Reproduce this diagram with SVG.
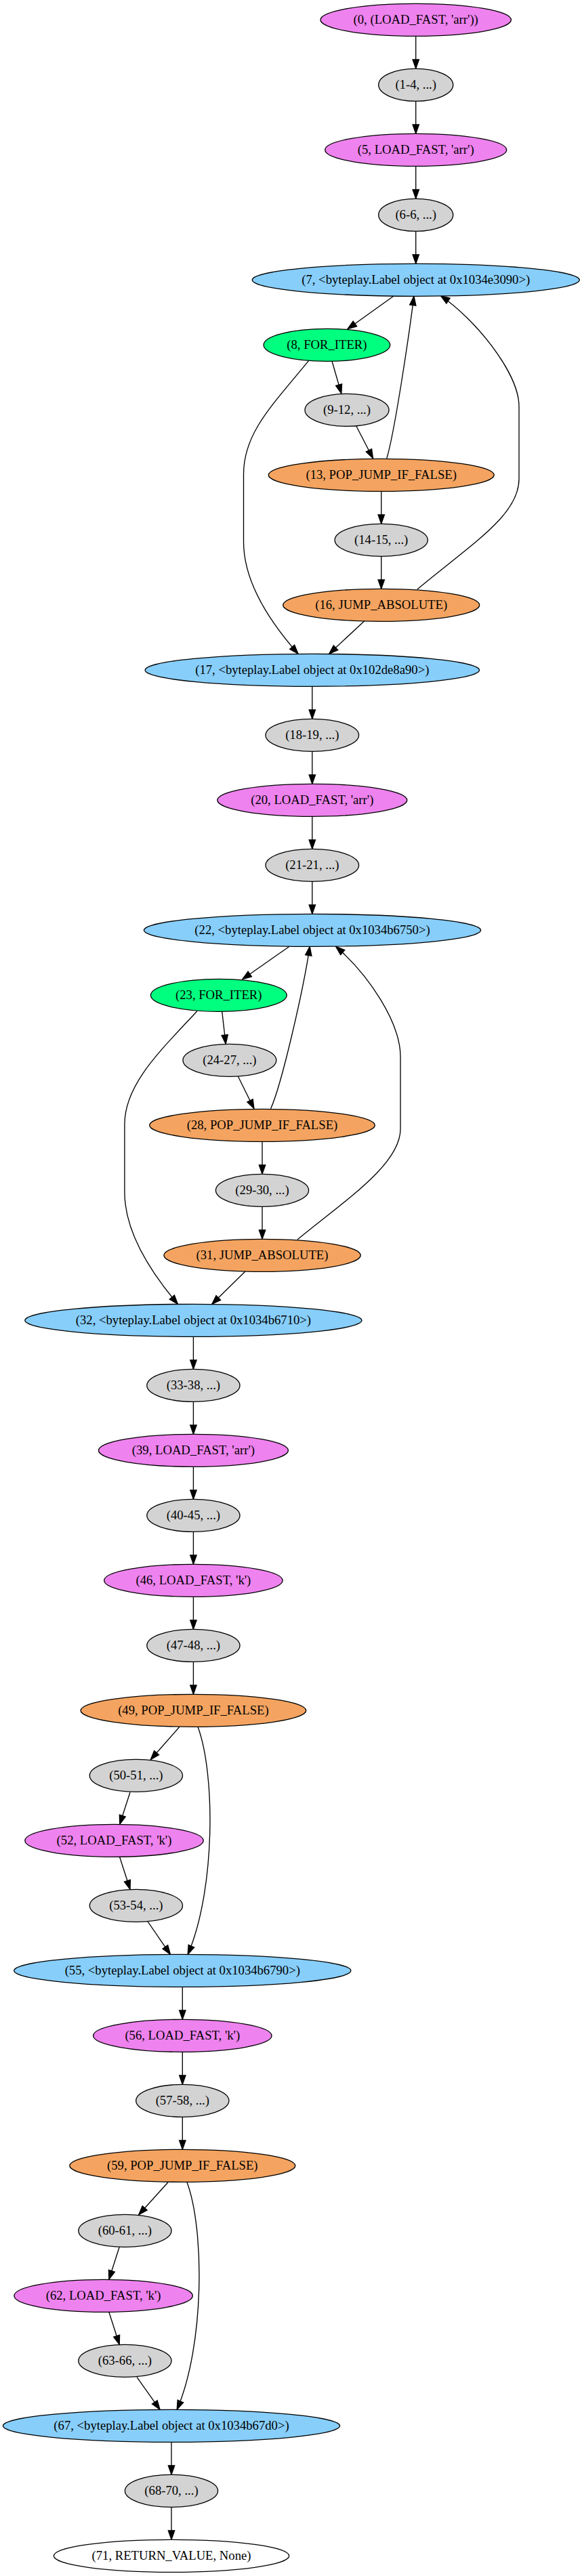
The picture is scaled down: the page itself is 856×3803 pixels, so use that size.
<svg xmlns="http://www.w3.org/2000/svg" width="856" height="3803" viewBox="0 0 856 3803">
<style>
.n ellipse{stroke:#000;stroke-width:1.33}
.n text{font-family:"Liberation Serif","Times New Roman",serif;font-size:18.67px;text-anchor:middle;fill:#000}
.v ellipse{fill:#ee82ee}
.g ellipse{fill:#d3d3d3}
.b ellipse{fill:#87cefa}
.s ellipse{fill:#00ff7f}
.o ellipse{fill:#f4a460}
.w ellipse{fill:#ffffff}
#edges path{fill:none;stroke:#000;stroke-width:1.33;marker-end:url(#ah)}
</style>
<defs>
<marker id="ah" markerUnits="userSpaceOnUse" markerWidth="16" markerHeight="12" refX="13.33" refY="4.67" orient="auto" overflow="visible">
<path d="M0,0 L13.33,4.67 L0,9.33 z" fill="#000" stroke="#000" stroke-width="1.33"/>
</marker>
</defs>
<rect width="856" height="3803" fill="#fff"/>
<g id="edges">
<path d="M613.7,53.3 L613.7,101.3"/>
<path d="M613.7,149.3 L613.7,197.3"/>
<path d="M613.7,245.3 L613.7,293.3"/>
<path d="M613.7,341.3 L613.7,389.3"/>
<path d="M580.7,437.3 L513,485.7"/>
<path d="M490,533.3 L503.8,581"/>
<path d="M455.5,532.7 C400,600 359.5,640 359.5,700 L359.5,800 C359.5,860 400,920 440,965.3"/>
<path d="M525.8,629 L550.5,676.7"/>
<path d="M570.8,676.7 C582,640 603,500 610.9,437.3"/>
<path d="M562.7,725.3 L562.7,773.3"/>
<path d="M562.7,821.3 L562.7,869.3"/>
<path d="M615.8,870 C700,800 766,760 766,706.7 L766,600 C766,550 700,470 650.4,436.7"/>
<path d="M537.8,916.7 L485.7,965.3"/>
<path d="M460.8,1013.3 L460.8,1061.3"/>
<path d="M460.8,1109.3 L460.8,1157.3"/>
<path d="M460.8,1205.3 L460.8,1253.3"/>
<path d="M460.8,1301.3 L460.8,1349.3"/>
<path d="M427,1397.3 L357.8,1445.7"/>
<path d="M327.7,1493.3 L333.2,1541.3"/>
<path d="M290.9,1492.7 C238,1550 183.9,1600 183.9,1660 L183.9,1760 C183.9,1820 224,1880 262.4,1925.3"/>
<path d="M351.3,1589 L374.9,1636.7"/>
<path d="M399.6,1636.7 C416,1600 448,1460 457.2,1397.3"/>
<path d="M387,1685.3 L387,1733.3"/>
<path d="M387,1781.3 L387,1829.3"/>
<path d="M439,1830 C505,1775 591,1720 591,1666.7 L591,1560 C591,1510 545,1440 495.6,1397.3"/>
<path d="M362.2,1876.7 L312.8,1925.3"/>
<path d="M285.4,1973.3 L285.4,2021.3"/>
<path d="M285.4,2069.3 L285.4,2117.3"/>
<path d="M285.4,2165.3 L285.4,2213.3"/>
<path d="M285.4,2261.3 L285.4,2309.3"/>
<path d="M285.4,2357.3 L285.4,2405.3"/>
<path d="M285.4,2453.3 L285.4,2501.3"/>
<path d="M265,2549.3 L222.3,2597.7"/>
<path d="M292,2549.3 C318,2620 318,2790 277.2,2885.3"/>
<path d="M192,2646 L176.7,2693.3"/>
<path d="M176.7,2741.7 L192,2789.3"/>
<path d="M217.9,2836.7 L251.4,2885.3"/>
<path d="M269.3,2933.3 L269.3,2981.3"/>
<path d="M269.3,3029.3 L269.3,3077.3"/>
<path d="M269.3,3125.3 L269.3,3173.3"/>
<path d="M248,3221.7 L204.7,3269.7"/>
<path d="M276,3221.7 C302,3292 302,3462 261.2,3557.3"/>
<path d="M176.2,3317.3 L160.8,3365.3"/>
<path d="M160.8,3413.3 L176.2,3461.3"/>
<path d="M202,3509.3 L236,3557.3"/>
<path d="M253,3605.3 L253,3653.3"/>
<path d="M253,3701.3 L253,3749.3"/>
</g>
<g id="n0" class="n v"><ellipse cx="613.7" cy="29.33" rx="140.7" ry="24"/><text x="613.7" y="34.9">(0, (LOAD_FAST, 'arr'))</text></g>
<g id="n1" class="n g"><ellipse cx="613.7" cy="125.33" rx="55" ry="24"/><text x="613.7" y="130.9">(1-4, ...)</text></g>
<g id="n5" class="n v"><ellipse cx="613.7" cy="221.33" rx="134" ry="24"/><text x="613.7" y="226.9">(5, LOAD_FAST, 'arr')</text></g>
<g id="n6" class="n g"><ellipse cx="613.7" cy="317.33" rx="55" ry="24"/><text x="613.7" y="322.9">(6-6, ...)</text></g>
<g id="n7" class="n b"><ellipse cx="613.7" cy="413.33" rx="241.5" ry="24"/><text x="613.7" y="418.9">(7, &lt;byteplay.Label object at 0x1034e3090&gt;)</text></g>
<g id="n8" class="n s"><ellipse cx="482.4" cy="509.33" rx="93.3" ry="24"/><text x="482.4" y="514.9">(8, FOR_ITER)</text></g>
<g id="n9" class="n g"><ellipse cx="512" cy="605.33" rx="62" ry="24"/><text x="512" y="610.9">(9-12, ...)</text></g>
<g id="n13" class="n o"><ellipse cx="562.7" cy="701.33" rx="166.5" ry="24"/><text x="562.7" y="706.9">(13, POP_JUMP_IF_FALSE)</text></g>
<g id="n14" class="n g"><ellipse cx="562.7" cy="797.33" rx="68.6" ry="24"/><text x="562.7" y="802.9">(14-15, ...)</text></g>
<g id="n16" class="n o"><ellipse cx="562.7" cy="893.33" rx="145" ry="24"/><text x="562.7" y="898.9">(16, JUMP_ABSOLUTE)</text></g>
<g id="n17" class="n b"><ellipse cx="460.8" cy="989.33" rx="246.7" ry="24"/><text x="460.8" y="994.9">(17, &lt;byteplay.Label object at 0x102de8a90&gt;)</text></g>
<g id="n18" class="n g"><ellipse cx="460.8" cy="1085.33" rx="68.8" ry="24"/><text x="460.8" y="1090.9">(18-19, ...)</text></g>
<g id="n20" class="n v"><ellipse cx="460.8" cy="1181.33" rx="140" ry="24"/><text x="460.8" y="1186.9">(20, LOAD_FAST, 'arr')</text></g>
<g id="n21" class="n g"><ellipse cx="460.8" cy="1277.33" rx="68.8" ry="24"/><text x="460.8" y="1282.9">(21-21, ...)</text></g>
<g id="n22" class="n b"><ellipse cx="461" cy="1373.33" rx="248.6" ry="24"/><text x="461" y="1378.9">(22, &lt;byteplay.Label object at 0x1034b6750&gt;)</text></g>
<g id="n23" class="n s"><ellipse cx="322.8" cy="1469.33" rx="100.4" ry="24"/><text x="322.8" y="1474.9">(23, FOR_ITER)</text></g>
<g id="n24" class="n g"><ellipse cx="338.9" cy="1565.33" rx="68.9" ry="24"/><text x="338.9" y="1570.9">(24-27, ...)</text></g>
<g id="n28" class="n o"><ellipse cx="387" cy="1661.33" rx="166.3" ry="24"/><text x="387" y="1666.9">(28, POP_JUMP_IF_FALSE)</text></g>
<g id="n29" class="n g"><ellipse cx="387" cy="1757.33" rx="68.6" ry="24"/><text x="387" y="1762.9">(29-30, ...)</text></g>
<g id="n31" class="n o"><ellipse cx="387" cy="1853.33" rx="145.2" ry="24"/><text x="387" y="1858.9">(31, JUMP_ABSOLUTE)</text></g>
<g id="n32" class="n b"><ellipse cx="285.4" cy="1949.33" rx="248.6" ry="24"/><text x="285.4" y="1954.9">(32, &lt;byteplay.Label object at 0x1034b6710&gt;)</text></g>
<g id="n33" class="n g"><ellipse cx="285.4" cy="2045.33" rx="68.6" ry="24"/><text x="285.4" y="2050.9">(33-38, ...)</text></g>
<g id="n39" class="n v"><ellipse cx="285.4" cy="2141.33" rx="140" ry="24"/><text x="285.4" y="2146.9">(39, LOAD_FAST, 'arr')</text></g>
<g id="n40" class="n g"><ellipse cx="285.4" cy="2237.33" rx="68.6" ry="24"/><text x="285.4" y="2242.9">(40-45, ...)</text></g>
<g id="n46" class="n v"><ellipse cx="285.4" cy="2333.33" rx="131.7" ry="24"/><text x="285.4" y="2338.9">(46, LOAD_FAST, 'k')</text></g>
<g id="n47" class="n g"><ellipse cx="285.4" cy="2429.33" rx="68.6" ry="24"/><text x="285.4" y="2434.9">(47-48, ...)</text></g>
<g id="n49" class="n o"><ellipse cx="285.4" cy="2525.33" rx="166.3" ry="24"/><text x="285.4" y="2530.9">(49, POP_JUMP_IF_FALSE)</text></g>
<g id="n50" class="n g"><ellipse cx="200.9" cy="2621.33" rx="68.6" ry="24"/><text x="200.9" y="2626.9">(50-51, ...)</text></g>
<g id="n52" class="n v"><ellipse cx="168.5" cy="2717.33" rx="131.7" ry="24"/><text x="168.5" y="2722.9">(52, LOAD_FAST, 'k')</text></g>
<g id="n53" class="n g"><ellipse cx="200.9" cy="2813.33" rx="68.6" ry="24"/><text x="200.9" y="2818.9">(53-54, ...)</text></g>
<g id="n55" class="n b"><ellipse cx="269.3" cy="2909.33" rx="248.6" ry="24"/><text x="269.3" y="2914.9">(55, &lt;byteplay.Label object at 0x1034b6790&gt;)</text></g>
<g id="n56" class="n v"><ellipse cx="269.3" cy="3005.33" rx="131.7" ry="24"/><text x="269.3" y="3010.9">(56, LOAD_FAST, 'k')</text></g>
<g id="n57" class="n g"><ellipse cx="269.3" cy="3101.33" rx="68.6" ry="24"/><text x="269.3" y="3106.9">(57-58, ...)</text></g>
<g id="n59" class="n o"><ellipse cx="269.3" cy="3197.33" rx="166.5" ry="24"/><text x="269.3" y="3202.9">(59, POP_JUMP_IF_FALSE)</text></g>
<g id="n60" class="n g"><ellipse cx="184.4" cy="3293.33" rx="68.6" ry="24"/><text x="184.4" y="3298.9">(60-61, ...)</text></g>
<g id="n62" class="n v"><ellipse cx="152.6" cy="3389.33" rx="131.7" ry="24"/><text x="152.6" y="3394.9">(62, LOAD_FAST, 'k')</text></g>
<g id="n63" class="n g"><ellipse cx="184.4" cy="3485.33" rx="68.6" ry="24"/><text x="184.4" y="3490.9">(63-66, ...)</text></g>
<g id="n67" class="n b"><ellipse cx="253" cy="3581.33" rx="248.6" ry="24"/><text x="253" y="3586.9">(67, &lt;byteplay.Label object at 0x1034b67d0&gt;)</text></g>
<g id="n68" class="n g"><ellipse cx="253" cy="3677.33" rx="68.6" ry="24"/><text x="253" y="3682.9">(68-70, ...)</text></g>
<g id="n71" class="n w"><ellipse cx="253" cy="3773.33" rx="173.7" ry="24"/><text x="253" y="3778.9">(71, RETURN_VALUE, None)</text></g>
</svg>
